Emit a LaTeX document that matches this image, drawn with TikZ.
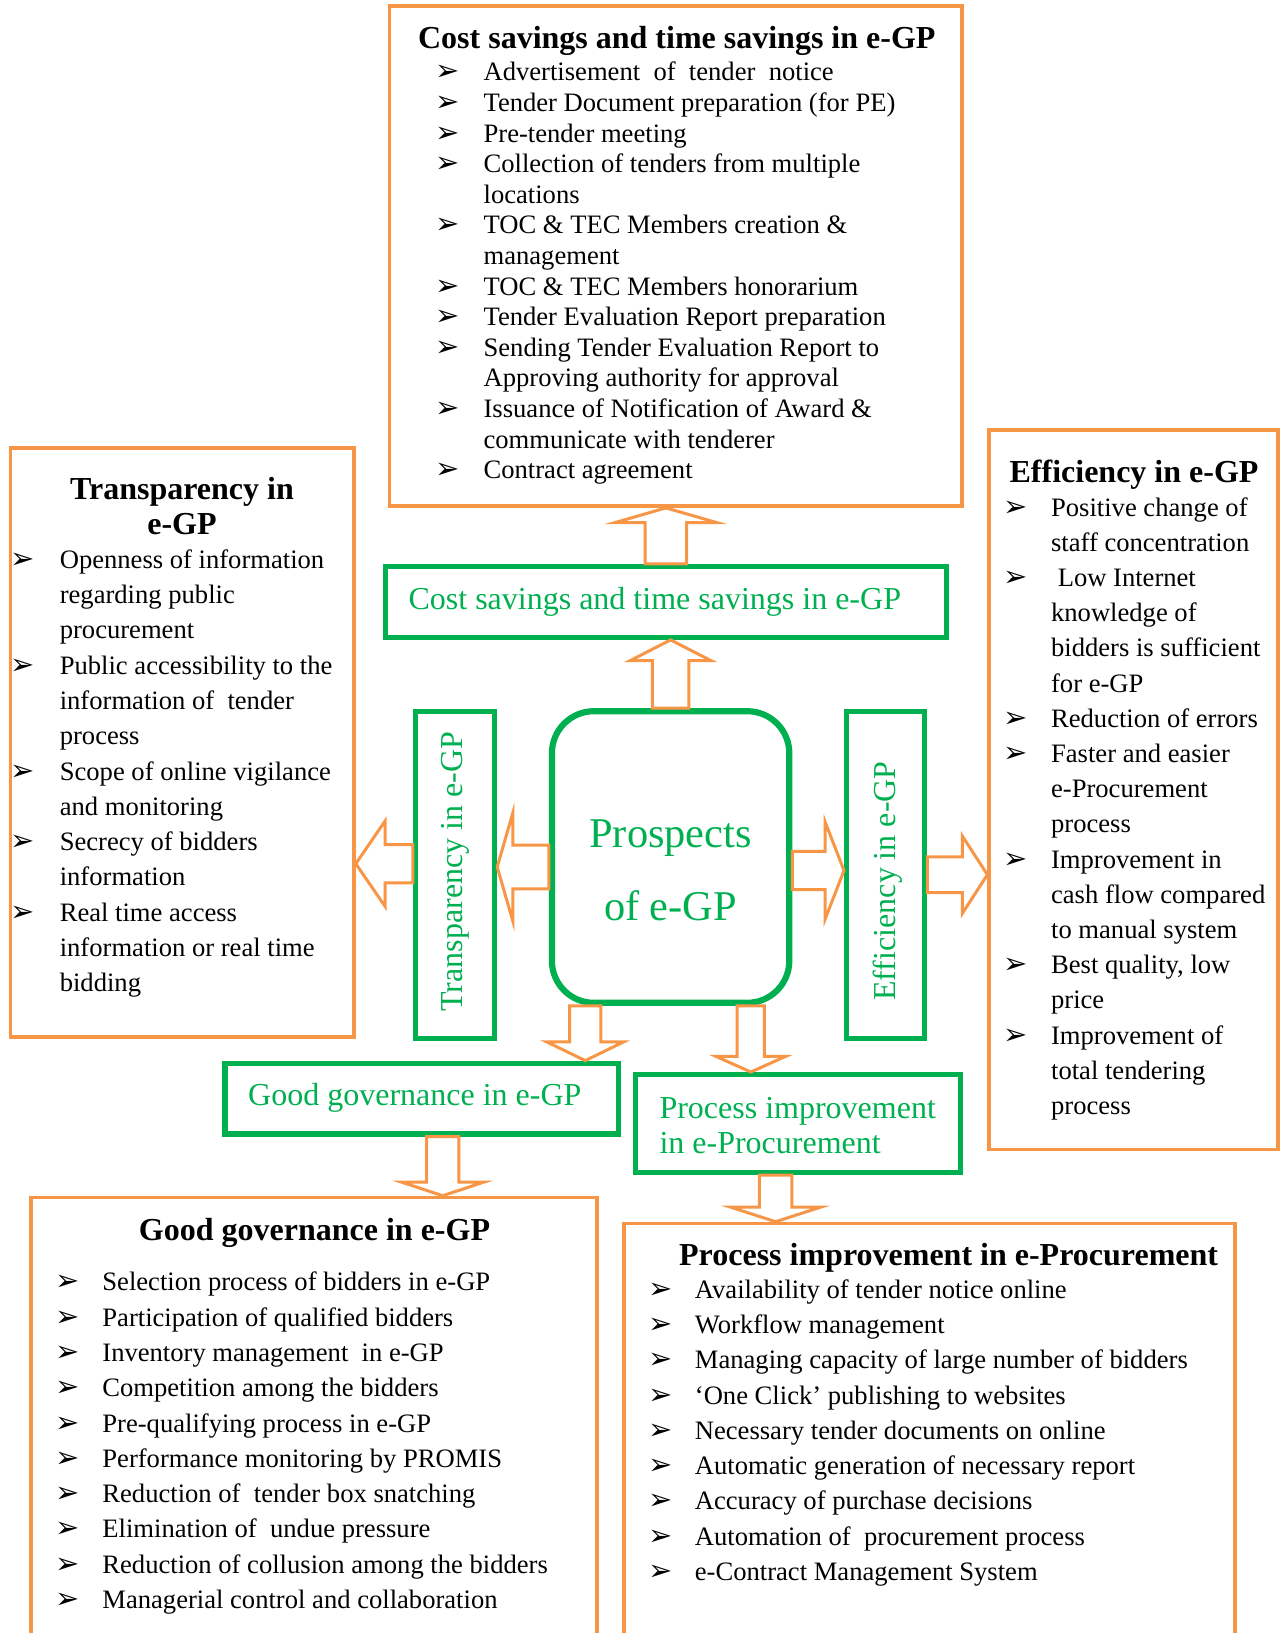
\documentclass[tikz,border=0pt]{standalone}
\usepackage{fontspec}
\setmainfont{Liberation Serif}
\newfontfamily\dejavu{DejaVu Sans}
\usetikzlibrary{calc,fit}
\definecolor{egorange}{HTML}{F79646}
\definecolor{eggreen}{HTML}{00B050}
\newcommand{\hollowarrow}[5]{%
 \coordinate (ha) at (#1);
 \coordinate (hb) at (#2);
 \coordinate (hq) at ($(hb)!#5!(ha)$);
 \draw[blockarr] ($(ha)!#3!90:(hb)$) -- ($(hq)!#3!90:(hb)$) -- ($(hq)!#4!90:(hb)$) -- (hb)
  -- ($(hq)!#4!-90:(hb)$) -- ($(hq)!#3!-90:(hb)$) -- ($(ha)!#3!-90:(hb)$) -- cycle;
}
\begin{document}
\begin{tikzpicture}[x=0.5pt,y=-0.5pt,
 obox/.style={draw=egorange, line width=1.8pt, inner sep=0pt},
 gbox/.style={draw=eggreen, line width=2.6pt, inner sep=0pt},
 item/.style={font=\fontsize{13.3}{16}\selectfont, inner sep=0pt, anchor=base west},
 bul/.style={font=\dejavu\fontsize{14.5}{16}\selectfont, inner sep=0pt, anchor=base west},
 ttl/.style={font=\bfseries\fontsize{16}{19}\selectfont, inner sep=0pt, anchor=base},
 glab/.style={text=eggreen, font=\fontsize{16}{19}\selectfont, inner sep=0pt},
 blockarr/.style={draw=egorange, line width=1.5pt, fill=white, line join=miter}]
 \clip (0,0) rectangle (1285,1633);
 \node[obox, fit={(389.5,6.2) (962.2,506.1)}] (costbox) {};
 \node[ttl] (costttl) at (676.8,48) {Cost savings and time savings in e-GP};
 \foreach \t [count=\i] in {Advertisement~ of~ tender~ notice, Tender Document preparation (for PE),
  Pre-tender meeting, Collection of tenders from multiple, locations, TOC \& TEC Members creation \&,
  management, TOC \& TEC Members honorarium, Tender Evaluation Report preparation,
  Sending Tender Evaluation Report to, Approving authority for approval,
  Issuance of Notification of Award \&, communicate with tenderer, Contract agreement}
  \node[item] (cost-\i) at (483.2,{80.9+30.6*(\i-1)}) {\t};
 \foreach \i in {1,2,3,4,6,8,9,10,12,14}
  \node[bul] (costb-\i) at (435,{80.9+30.6*(\i-1)}) {➢};

 \node[obox, fit={(10.4,447.8) (354,1037.2)}] (transbox) {};
 \node[ttl] (transttl1) at (182,499) {Transparency in};
 \node[ttl] (transttl2) at (182,534) {e-GP};
 \foreach \t [count=\i] in {Openness of information, regarding public, procurement,
  Public accessibility to the, information of~ tender, process, Scope of online vigilance,
  and monitoring, Secrecy of bidders, information, Real time access,
  information or real time, bidding}
  \node[item] (trans-\i) at (59.4,{568.2+35.3*(\i-1)}) {\t};
 \foreach \i in {1,4,7,9,11}
  \node[bul] (transb-\i) at (10.5,{568.2+35.3*(\i-1)}) {➢};

 \node[obox, fit={(989.2,430) (1277.7,1149.6)}] (effbox) {};
 \node[ttl] (effttl) at (1134,482) {Efficiency in e-GP};
 \foreach \t [count=\i] in {Positive change of, staff concentration, \ Low Internet, knowledge of,
  bidders is sufficient, for e-GP, Reduction of errors, Faster and easier, e-Procurement, process,
  Improvement in, cash flow compared, to manual system, {Best quality, low}, price,
  Improvement of, total tendering, process}
  \node[item] (eff-\i) at (1050.7,{516.1+35.2*(\i-1)}) {\t};
 \foreach \i in {1,3,7,8,11,14,16}
  \node[bul] (effb-\i) at (1003,{516.1+35.2*(\i-1)}) {➢};

 \node[obox, fit={(31.2,1197.5) (596.7,1660)}] (govbox) {};
 \node[ttl] (govttl) at (314.5,1240.3) {Good governance in e-GP};
 \foreach \t [count=\i] in {Selection process of bidders in e-GP, Participation of qualified bidders,
  Inventory management~ in e-GP, Competition among the bidders, Pre-qualifying process in e-GP,
  Performance monitoring by PROMIS, Reduction of~ tender box snatching,
  Elimination of~ undue pressure, Reduction of collusion among the bidders,
  Managerial control and collaboration}
  \node[item] (gov-\i) at (102,{1290.8+35.3*(\i-1)}) {\t};
 \foreach \i in {1,...,10}
  \node[bul] (govb-\i) at (55.5,{1290.8+35.3*(\i-1)}) {➢};

 \node[obox, fit={(623.7,1223.5) (1235,1660)}] (procbox) {};
 \node[ttl] (procttl) at (948.6,1265.3) {Process improvement in e-Procurement};
 \foreach \t [count=\i] in {Availability of tender notice online, Workflow management,
  Managing capacity of large number of bidders, ‘One Click’ publishing to websites,
  Necessary tender documents on online, Automatic generation of necessary report,
  Accuracy of purchase decisions, Automation of~ procurement process, e-Contract Management System}
  \node[item] (proc-\i) at (694.5,{1298.1+35.3*(\i-1)}) {\t};
 \foreach \i in {1,...,9}
  \node[bul] (procb-\i) at (648,{1298.1+35.3*(\i-1)}) {➢};

 \node[gbox, fit={(385.3,566.5) (946.5,637.3)}] (costg) {};
 \node[glab, anchor=base west] (costgt) at (408.2,609) {Cost savings and time savings in e-GP};
 \node[gbox, line width=3.1pt, rounded corners=21pt, fit={(551.9,711.2) (789.3,1002.8)}] (pros) {};
 \node[glab, font=\fontsize{21.2}{25}\selectfont, anchor=base] (prost1) at (670.6,847) {Prospects};
 \node[glab, font=\fontsize{21.2}{25}\selectfont, anchor=base] (prost2) at (670.6,920) {of e-GP};
 \node[gbox, fit={(415.5,711.2) (494.6,1038.2)}] (transg) {};
 \node[glab, rotate=90] (transgt) at (455,871.6) {Transparency in e-GP};
 \node[gbox, fit={(846.6,711.2) (924.7,1038.2)}] (effg) {};
 \node[glab, rotate=90] (effgt) at (888,881) {Efficiency in e-GP};
 \node[gbox, fit={(224.9,1063.2) (618.5,1134)}] (govg) {};
 \node[glab, anchor=base west] (govgt) at (247.8,1105.5) {Good governance in e-GP};
 \node[gbox, fit={(635.2,1074.6) (960.1,1172.5)}] (procg) {};
 \node[glab, anchor=base west] (procgt1) at (659.1,1118.5) {Process improvement};
 \node[glab, anchor=base west] (procgt2) at (659.1,1153.8) {in e-Procurement};

 \hollowarrow{costg.north}{ha |- costbox.south}{10.4pt}{25.3pt}{7.3pt}
 \hollowarrow{pros.north}{ha |- costg.south}{9.1pt}{20.3pt}{10.4pt}
 \hollowarrow{$(pros.west)+(0,10)$}{ha -| transg.east}{10.9pt}{27pt}{7.8pt}
 \hollowarrow{$(transg.west)+(0,-11)$}{ha -| transbox.east}{9.6pt}{21.3pt}{14.6pt}
 \hollowarrow{$(pros.east)+(0,13.5)$}{ha -| effg.west}{9.6pt}{24.2pt}{9.4pt}
 \hollowarrow{effg.east}{ha -| effbox.west}{8.9pt}{19.3pt}{12.5pt}
 \hollowarrow{$(pros.south)+(-85.4,0)$}{ha |- govg.north}{7.8pt}{19.3pt}{9.4pt}
 \hollowarrow{$(pros.south)+(80.2,0)$}{ha |- procg.north}{6.8pt}{17.4pt}{7.8pt}
 \hollowarrow{$(govg.south)+(21,0)$}{ha |- govbox.north}{8.1pt}{20.6pt}{6.8pt}
 \hollowarrow{$(procg.south)+(-22,0)$}{ha |- procbox.north}{8.1pt}{22.6pt}{7.3pt}
\end{tikzpicture}
\end{document}
